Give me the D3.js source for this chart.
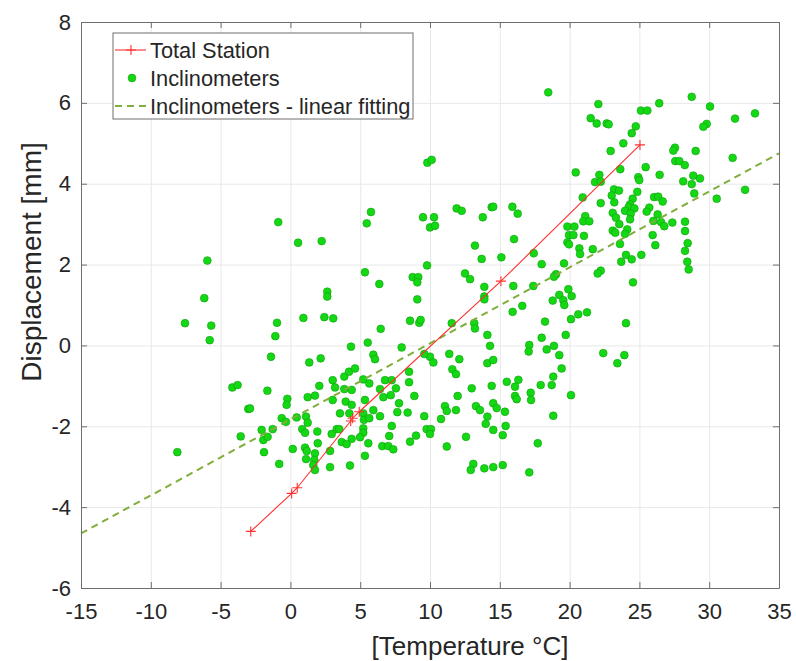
<!DOCTYPE html>
<html>
<head>
<meta charset="utf-8">
<script src="https://cdn.jsdelivr.net/npm/d3@7"></script>
<style>
  body { margin: 0; background: #fff; }
  svg text { font-family: "Liberation Sans", Arial, Helvetica, sans-serif; fill: #262626; }
</style>
</head>
<body>
<svg id="chart" width="796" height="661"></svg>
<script>
// total station measurements
var tsTemp = [-2.84, 0.09, 0.49, 4.32, 4.46, 4.93, 15.08, 25.04];
var tsDisp = [-4.60, -3.66, -3.52, -1.87, -1.80, -1.64, 1.59, 4.96];

// linear fit of the inclinometer cloud
var fitTemp = [-15, 35];
var fitDisp = [-4.65, 4.75];

var xTicks = [-15, -10, -5, 0, 5, 10, 15, 20, 25, 30, 35];
var yTicks = [-6, -4, -2, 0, 2, 4, 6, 8];

var legendLabels = ['Total Station', 'Inclinometers', 'Inclinometers - linear fitting'];

// inclinometers [temperature, displacement]
var inclinometers = [
  [28.75,6.15],[22.06,5.97],[26.42,5.99],[30.06,5.91],[25.11,5.81],[25.57,5.81],[33.28,5.74],[31.85,5.61],
  [21.51,5.62],[21.94,5.49],[22.66,5.49],[22.80,5.47],[29.82,5.48],[29.58,5.41],[24.74,5.42],[24.45,5.25],
  [23.85,5.00],[27.55,4.89],[27.43,4.82],[29.03,4.81],[22.94,4.81],[31.68,4.64],[27.57,4.56],[27.86,4.56],
  [28.25,4.46],[25.45,4.41],[23.63,4.36],[20.44,4.28],[22.13,4.22],[24.92,4.16],[24.99,4.09],[26.45,4.22],
  [28.86,4.20],[29.34,4.13],[28.14,4.06],[21.82,4.04],[22.23,4.05],[28.75,3.99],[32.57,3.85],[23.18,3.86],
  [23.54,3.83],[24.85,3.80],[28.93,3.76],[23.02,3.71],[20.94,3.66],[26.05,3.67],[26.35,3.68],[30.54,3.63],
  [24.52,3.63],[26.67,3.56],[23.20,3.54],[22.23,3.52],[24.33,3.49],[24.23,3.42],[24.64,3.39],[25.71,3.41],
  [23.97,3.33],[25.52,3.31],[23.09,3.28],[24.38,3.26],[26.31,3.24],[21.12,3.20],[23.32,3.16],[24.33,3.12],
  [20.98,3.07],[21.41,3.07],[26.00,3.08],[26.55,3.05],[27.36,3.04],[28.27,3.06],[26.78,2.95],[23.56,3.00],
  [19.84,2.94],[20.34,2.94],[24.13,2.87],[23.09,2.84],[23.27,2.79],[28.27,2.83],[19.96,2.73],[20.27,2.73],
  [21.03,2.71],[23.97,2.76],[25.95,2.73],[19.84,2.55],[19.96,2.50],[23.61,2.51],[28.46,2.53],[26.14,2.48],
  [20.70,2.40],[21.66,2.38],[28.27,2.34],[20.75,2.26],[24.04,2.24],[25.14,2.24],[24.45,2.13],[23.70,2.07],
  [28.43,2.07],[19.60,2.03],[22.23,1.85],[22.01,1.78],[28.53,1.88],[19.03,1.76],[18.88,1.70],
  [18.47,6.26],[9.81,4.52],[10.12,4.59],[5.77,3.30],[5.47,3.02],[9.50,3.17],[10.29,3.17],[10.00,2.92],
  [10.36,2.96],[11.91,3.39],[12.27,3.33],[13.78,3.17],[14.42,3.42],[14.53,3.43],[15.90,3.43],[16.28,3.26],
  [16.02,2.63],[13.22,2.47],[13.70,2.14],[15.11,2.18],[17.43,2.28],[18.00,2.01],[9.79,1.98],[5.34,1.81],
  [8.76,1.69],[9.16,1.69],[12.51,1.78],[12.87,1.64],
  [-0.87,3.05],[0.55,2.54],[2.24,2.58],[-5.95,2.10],[-6.17,1.17],[-7.55,0.55],[-5.67,0.49],[-5.78,0.13],
  [2.64,1.33],[2.64,1.21],[0.93,0.68],[2.43,0.70],[3.07,0.67],[-0.96,0.56],[-1.08,0.23],
  [-1.39,-0.28],[1.35,-0.42],[2.17,-0.32],[5.94,-0.23],[6.06,-0.34],[-4.16,-1.04],[-3.78,-0.98],[-1.65,-1.12],
  [-3.02,-1.57],[-2.89,-1.56],[-0.22,-1.32],[-0.27,-1.47],[1.24,-1.28],[1.76,-1.24],[2.07,-1.00],[3.03,-0.86],
  [3.86,-0.77],[4.20,-0.65],[4.63,-0.57],[3.20,-1.04],[3.86,-1.08],[4.39,-1.10],[5.22,-0.84],[5.65,-0.94],
  [6.78,-0.86],[7.26,-0.86],[8.50,-0.65],[8.50,-0.91],[6.42,-1.08],[3.03,-1.35],[3.96,-1.39],[4.39,-1.47],
  [5.34,-1.35],[6.66,-1.28],[7.19,-1.23],[7.56,-1.06],[8.88,-1.25],[10.00,-0.28],[10.24,-0.42],[-0.62,-1.80],
  [-0.32,-1.89],[0.45,-1.78],[1.12,-1.76],[1.24,-1.91],[3.55,-1.68],[4.22,-1.68],[5.22,-1.68],[5.27,-1.84],
  [5.94,-1.60],[5.65,-1.80],[6.42,-1.75],[7.78,-1.43],[7.66,-1.65],[8.40,-1.66],[9.59,-1.75],[10.79,-1.82],
  [11.07,-1.50],[11.20,-1.62],[-2.06,-2.09],[-1.27,-2.07],[-3.56,-2.25],[-1.94,-2.34],[-1.63,-2.26],[0.85,-2.07],
  [1.05,-2.16],[1.93,-2.13],[2.96,-2.19],[3.32,-2.07],[3.50,-2.07],[5.22,-2.05],[5.22,-2.16],[4.99,-2.27],
  [4.39,-2.31],[3.68,-2.39],[4.03,-2.44],[5.58,-2.42],[7.26,-1.99],[7.08,-2.24],[8.57,-2.38],[9.00,-2.23],
  [9.76,-2.07],[10.07,-2.07],[10.00,-2.19],[1.96,-2.42],[0.17,-2.56],[1.05,-2.53],[1.17,-2.61],[-1.89,-2.64],
  [1.76,-2.67],[2.84,-2.61],[6.58,-2.49],[7.01,-2.49],[7.37,-2.57],[11.20,-2.50],[1.12,-2.81],[1.71,-2.83],
  [5.34,-2.73],[1.64,-2.96],[1.76,-3.08],[-0.80,-2.93],[2.84,-3.01],[4.27,-2.97],[-8.10,-2.64],
  [9.09,1.56],[13.89,1.45],[6.37,1.52],[9.09,1.14],[13.89,1.21],[13.89,1.14],[15.97,1.47],[17.40,1.47],
  [19.26,1.25],[18.79,1.11],[16.61,0.98],[15.92,0.83],[8.57,0.61],[9.23,0.56],[9.33,0.63],[6.47,0.41],
  [11.56,0.55],[13.17,0.55],[13.22,0.42],[18.24,0.59],[14.11,0.26],[18.00,0.19],[17.11,0.01],[17.07,-0.15],
  [18.36,-0.10],[18.88,-0.01],[19.26,-0.24],[5.54,0.07],[4.34,-0.03],[7.97,-0.05],[14.30,-0.01],[9.59,-0.21],
  [11.38,-0.21],[12.10,-0.34],[14.11,-0.44],[14.53,-0.36],[11.60,-0.59],[11.86,-0.71],[15.50,-0.90],[16.09,-1.02],
  [16.33,-0.85],[14.42,-1.00],[12.99,-1.06],[11.98,-1.25],[17.93,-0.98],[18.72,-0.98],[18.83,-0.77],[17.21,-1.17],
  [17.24,-1.35],[16.09,-1.25],[16.21,-1.33],[14.53,-1.43],[14.78,-1.55],[13.29,-1.50],[13.58,-1.60],[11.86,-1.60],
  [15.37,-1.64],[14.11,-1.76],[13.99,-1.94],[15.42,-1.99],[14.53,-2.09],[15.21,-2.22],[12.58,-2.26],[17.72,-2.42],
  [18.83,-1.74],[13.10,-2.93],[12.92,-3.08],[13.89,-3.04],[14.53,-3.01],[15.21,-2.96],[17.11,-3.14],
  [24.54,1.56],[19.91,1.39],[20.15,1.22],[19.55,1.12],[19.62,1.00],[20.10,0.65],[20.62,0.77],[21.25,0.82],
  [24.04,0.55],[19.72,0.26],[22.41,-0.19],[23.92,-0.24],[23.42,-0.44],[19.43,-0.57],[20.10,-1.23]
];

var red = '#ff3030', green = '#14d814', fitColor = '#7fae3a', boxColor = '#6e6e6e';

var svg = d3.select('#chart');
var pLeft = 81, pRight = 779, pTop = 22, pBottom = 588;

var x = d3.scaleLinear().domain([-15, 35]).range([pLeft, pRight]);
var y = d3.scaleLinear().domain([-6, 8]).range([pBottom, pTop]);
var fmt = d => String(d);

// grid
svg.append('g')
  .attr('transform', `translate(0,${pBottom})`)
  .call(d3.axisBottom(x).tickValues(xTicks).tickSize(-(pBottom - pTop)).tickFormat(''))
  .call(g => g.select('.domain').remove())
  .call(g => g.selectAll('line').attr('stroke', '#e8e8e8'));
svg.append('g')
  .attr('transform', `translate(${pLeft},0)`)
  .call(d3.axisLeft(y).tickValues(yTicks).tickSize(-(pRight - pLeft)).tickFormat(''))
  .call(g => g.select('.domain').remove())
  .call(g => g.selectAll('line').attr('stroke', '#e8e8e8'));

// inclinometer points
svg.append('g')
  .selectAll('circle')
  .data(inclinometers)
  .join('circle')
  .attr('cx', d => x(d[0]))
  .attr('cy', d => y(d[1]))
  .attr('r', 3.9)
  .attr('fill', green)
  .attr('stroke', '#0d9f0d')
  .attr('stroke-width', 0.6);

// linear fit
var line = d3.line().x(d => x(d[0])).y(d => y(d[1]));
svg.append('path')
  .datum(d3.zip(fitTemp, fitDisp))
  .attr('d', line)
  .attr('fill', 'none')
  .attr('stroke', fitColor)
  .attr('stroke-width', 2)
  .attr('stroke-dasharray', '7,5');

// total station
var ts = d3.zip(tsTemp, tsDisp);
svg.append('path')
  .datum(ts)
  .attr('d', line)
  .attr('fill', 'none')
  .attr('stroke', red)
  .attr('stroke-width', 1.1);
var plus = 'M-5,0H5M0,-5V5';
svg.append('g')
  .selectAll('path')
  .data(ts)
  .join('path')
  .attr('d', plus)
  .attr('transform', d => `translate(${x(d[0])},${y(d[1])})`)
  .attr('stroke', red)
  .attr('stroke-width', 1.1);

// axes, MATLAB style box with inward ticks
function styleAxis(g) {
  g.select('.domain').attr('stroke', boxColor);
  g.selectAll('.tick line').attr('stroke', boxColor);
  g.selectAll('text').style('font-size', '22px').attr('fill', '#262626');
}
svg.append('g')
  .attr('transform', `translate(0,${pBottom})`)
  .call(d3.axisBottom(x).tickValues(xTicks).tickSize(-6).tickSizeOuter(0).tickPadding(15).tickFormat(fmt))
  .call(styleAxis);
svg.append('g')
  .attr('transform', `translate(0,${pTop})`)
  .call(d3.axisTop(x).tickValues(xTicks).tickSize(-6).tickSizeOuter(0).tickFormat(''))
  .call(styleAxis);
svg.append('g')
  .attr('transform', `translate(${pLeft},0)`)
  .call(d3.axisLeft(y).tickValues(yTicks).tickSize(-6).tickSizeOuter(0).tickPadding(10).tickFormat(fmt))
  .call(styleAxis);
svg.append('g')
  .attr('transform', `translate(${pRight},0)`)
  .call(d3.axisRight(y).tickValues(yTicks).tickSize(-6).tickSizeOuter(0).tickFormat(''))
  .call(styleAxis);

// axis labels
svg.append('text')
  .attr('x', 470).attr('y', 655)
  .attr('text-anchor', 'middle')
  .style('font-size', '26px')
  .text('[Temperature °C]');
svg.append('text')
  .attr('transform', 'translate(41,262) rotate(-90)')
  .attr('text-anchor', 'middle')
  .style('font-size', '28px')
  .text('Displacement [mm]');

// legend
var lg = svg.append('g').attr('transform', 'translate(113,33)');
lg.append('rect')
  .attr('width', 300).attr('height', 86)
  .attr('fill', '#fff')
  .attr('stroke', boxColor);
var rowY = [17, 45, 73];
lg.append('line').attr('x1', 2).attr('x2', 33).attr('y1', rowY[0]).attr('y2', rowY[0])
  .attr('stroke', red).attr('stroke-width', 1.1);
lg.append('path').attr('d', plus).attr('transform', `translate(18,${rowY[0]})`)
  .attr('stroke', red).attr('stroke-width', 1.1);
lg.append('circle').attr('cx', 19).attr('cy', rowY[1]).attr('r', 3.9)
  .attr('fill', green).attr('stroke', '#0d9f0d').attr('stroke-width', 0.6);
lg.append('line').attr('x1', 2).attr('x2', 34).attr('y1', rowY[2]).attr('y2', rowY[2])
  .attr('stroke', fitColor).attr('stroke-width', 2).attr('stroke-dasharray', '7,5');
lg.selectAll('text.lab')
  .data(legendLabels)
  .join('text')
  .attr('class', 'lab')
  .attr('x', 37)
  .attr('y', (d, i) => rowY[i] + 8)
  .style('font-size', '21.8px')
  .text(d => d);
</script>
</body>
</html>
